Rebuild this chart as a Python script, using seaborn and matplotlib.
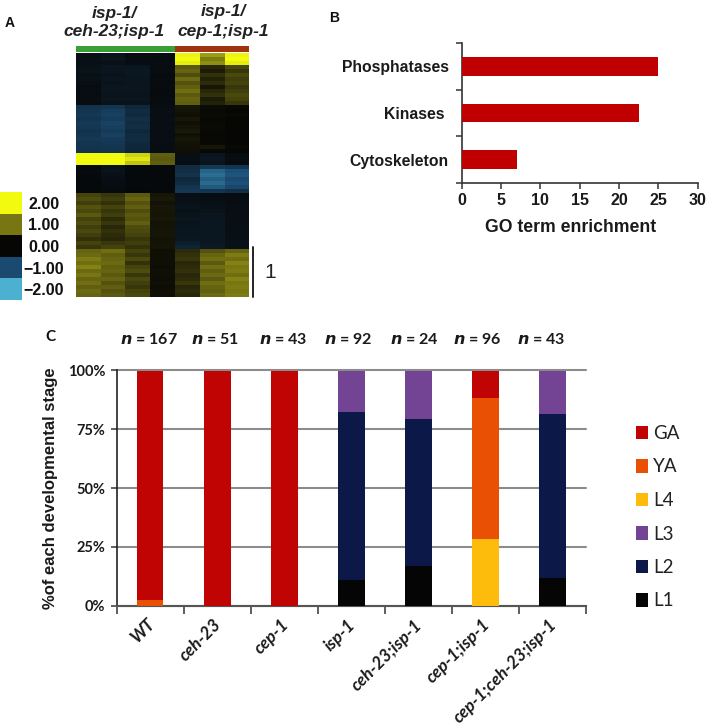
import matplotlib
matplotlib.use("Agg")
import matplotlib.pyplot as plt
from matplotlib.colors import LinearSegmentedColormap, ListedColormap
from matplotlib.transforms import ScaledTranslation
import numpy as np
import pandas as pd
import seaborn as sns

W, H = 709, 728

# Panel A: expression matrix, read block by block from the picture
heat_rows = [
    [-.14, -.20, -.10, -.10, 1.95, 1.30, 1.95],
    [-.15, -.22, -.12, -.10, 2.00, 1.05, 2.00],
    [-.16, -.18, -.11, -.12, 1.90, 1.20, 1.90],
    [-.18, -.22, -.25, -.10, .75, .30, .60],
    [-.20, -.24, -.28, -.12, .85, .20, .45],
    [-.15, -.20, -.26, -.09, .65, .40, .60],
    [-.18, -.25, -.24, -.10, .90, .25, .50],
    [-.14, -.20, -.22, -.08, .70, .35, .55],
    [-.10, -.22, -.24, -.10, .80, .15, .45],
    [-.12, -.24, -.22, -.09, .95, .30, .50],
    [-.10, -.20, -.20, -.08, .75, .40, .60],
    [-.12, -.22, -.22, -.10, .85, .20, .55],
    [-.10, -.20, -.20, -.08, .80, .25, .45],
    [-.65, -.70, -.50, -.12, .15, .05, .02],
    [-.70, -.80, -.55, -.14, .12, .04, .01],
    [-.72, -.85, -.52, -.12, .08, .05, .02],
    [-.68, -.78, -.60, -.13, .16, .03, .00],
    [-.75, -.88, -.55, -.12, .10, .04, .01],
    [-.72, -.82, -.58, -.14, .14, .05, .01],
    [-.66, -.78, -.50, -.12, .18, .03, .00],
    [-.70, -.84, -.54, -.12, .10, .02, .00],
    [-.74, -.76, -.56, -.13, .15, .04, .01],
    [-.70, -.72, -.52, -.11, .12, .03, .00],
    [-.68, -.70, -.50, -.12, .10, .15, .02],
    [-.66, -.68, -.48, -.12, .08, .03, .00],
    [2.00, 2.00, 1.70, .80, -.14, -.24, -.10],
    [2.00, 2.00, 1.85, .75, -.16, -.26, -.12],
    [2.00, 2.00, 1.60, .80, -.12, -.22, -.10],
    [-.06, -.16, -.06, -.05, -.55, -.75, -.70],
    [-.08, -.20, -.05, -.05, -.60, -1.25, -1.05],
    [-.07, -.18, -.06, -.04, -.65, -1.35, -1.10],
    [-.05, -.14, -.05, -.05, -.50, -1.20, -1.00],
    [-.06, -.12, -.04, -.04, -.55, -1.30, -1.05],
    [-.05, -.10, -.05, -.05, -.70, -1.15, -.95],
    [-.04, -.08, -.03, -.04, -.75, -.70, -.60],
    [.55, .45, .75, .15, -.14, -.10, -.10],
    [.65, .50, .85, .18, -.16, -.12, -.10],
    [.50, .40, .70, .12, -.18, -.16, -.12],
    [.70, .55, .80, .16, -.20, -.18, -.14],
    [.60, .45, .65, .15, -.18, -.20, -.12],
    [.75, .50, .75, .14, -.20, -.22, -.14],
    [.55, .35, .70, .16, -.22, -.24, -.15],
    [.65, .45, .80, .12, -.20, -.26, -.14],
    [.50, .30, .65, .14, -.22, -.26, -.15],
    [.60, .40, .60, .13, -.24, -.26, -.16],
    [.50, .35, .55, .15, -.24, -.28, -.15],
    [.40, .30, .45, .12, -.26, -.26, -.16],
    [.55, .45, .50, .14, -.35, -.28, -.18],
    [.45, .55, .40, .14, -.45, -.30, -.18],
    [.85, .95, .55, .08, .35, .70, .85],
    [.90, .80, .45, .08, .40, .85, 1.05],
    [1.05, .85, .60, .09, .45, .95, .95],
    [.95, .90, .40, .08, .30, .75, 1.10],
    [1.10, .80, .55, .07, .35, .95, 1.00],
    [.90, .85, .65, .08, .40, .80, 1.05],
    [1.00, .75, .45, .08, .30, .90, .95],
    [.85, .85, .60, .07, .35, .75, 1.10],
    [.95, .70, .50, .08, .45, .95, 1.00],
    [.80, .80, .45, .07, .30, .85, 1.05],
    [.90, .70, .55, .08, .35, .80, 1.00],
    [.85, .75, .60, .08, .30, .90, 1.05],
]
heat_groups = [0, 0, 0, 0, 1, 1, 1]
heat_group_colors = ["#3aa035", "#a03410"]
heat_levels = [2.0, 1.0, 0.0, -1.0, -2.0]
heat_level_labels = ["2.00", "1.00", "0.00", "\u22121.00", "\u22122.00"]
header_left = "isp-1/\nceh-23;isp-1"
header_right = "isp-1/\ncep-1;isp-1"

# Panel B
go_terms = ["Phosphatases", "Kinases ", "Cytoskeleton"]
go_values = [25.0, 22.6, 7.0]

# Panel C
strains = ["WT", "ceh-23", "cep-1", "isp-1", "ceh-23;isp-1", "cep-1;isp-1", "cep-1;ceh-23;isp-1"]
n_labels = ["167", "51", "43", "92", "24", "96", "43"]
stage_names = ["L1", "L2", "L3", "L4", "YA", "GA"]
stage_colors = ["#050505", "#0c1848", "#744494", "#fdbb0c", "#ea5004", "#c00404"]
L1 = [0, 0, 0, 10.7, 16.7, 0, 11.6]
L2 = [0, 0, 0, 71.8, 62.5, 0, 69.8]
L3 = [0, 0, 0, 17.5, 20.8, 0, 18.6]
L4 = [0, 0, 0, 0, 0, 28.1, 0]
YA = [2.4, 0, 0, 0, 0, 60.4, 0]
GA = [97.6, 100, 100, 0, 0, 11.5, 0]
y_ticks_c = [0, 25, 50, 75, 100]

sns.set_theme(style="white", rc={"axes.facecolor": "white"})
ARIAL = ["Liberation Sans", "DejaVu Sans"]
CALIBRI = ["Lato", "DejaVu Sans"]
plt.rcParams["font.family"] = ARIAL

fig = plt.figure(figsize=(W / 100, H / 100), dpi=100, facecolor="white")


def px_axes(x0, y0, x1, y1):
    return fig.add_axes([x0 / W, 1 - y1 / H, (x1 - x0) / W, (y1 - y0) / H])


def ftext(x, y, s, **kw):
    fig.text(x / W, 1 - y / H, s, **kw)


# ---------- Panel A ----------
expr_cmap = LinearSegmentedColormap.from_list(
    "expr",
    [(0, "#4cb0d0"), (.25, "#1a4a70"), (.5, "#050505"), (.75, "#767412"), (1, "#f2fa10")],
)
ax_h = px_axes(75.7, 52.7, 249.3, 296.7)
sns.heatmap(np.array(heat_rows), ax=ax_h, cmap=expr_cmap, vmin=-2, vmax=2,
            cbar=False, xticklabels=False, yticklabels=False)

ax_g = px_axes(75.7, 46, 249.3, 51.5)
sns.heatmap(np.array([heat_groups]), ax=ax_g, cmap=ListedColormap(heat_group_colors),
            cbar=False, xticklabels=False, yticklabels=False)

ax_k = px_axes(0, 192, 22, 300)
sns.heatmap(np.array(heat_levels).reshape(-1, 1), ax=ax_k, cmap=expr_cmap, vmin=-2, vmax=2,
            cbar=False, xticklabels=False, yticklabels=heat_level_labels)
ax_k.yaxis.tick_right()
ax_k.tick_params(axis="y", length=0, pad=15.8, labelsize=11.5, labelrotation=0)
for t in ax_k.get_yticklabels():
    t.set_fontweight("bold")
    t.set_color("#111111")
    t.set_horizontalalignment("center")

ftext(114.5, 22.5, header_left, ha="center", va="center", fontsize=12.5, fontweight="bold",
      fontstyle="italic", color="#222222", linespacing=1.3)
ftext(223.5, 21.5, header_right, ha="center", va="center", fontsize=12.5, fontweight="bold",
      fontstyle="italic", color="#222222", linespacing=1.35)
fig.add_artist(plt.Line2D([253 / W, 253 / W], [1 - 247 / H, 1 - 297 / H], color="#222222", lw=1.4))
ftext(270, 272, "1", ha="center", va="center", fontsize=15, color="#222222")
ftext(10, 23, "A", ha="center", va="center", fontsize=10, fontweight="bold", color="#111111")

# ---------- Panel B ----------
ax_b = px_axes(461.5, 43, 697.7, 183)
sns.barplot(x=go_values, y=go_terms, ax=ax_b, orient="h", color="#c00000", saturation=1, width=0.4,
            linewidth=0, zorder=3)
ax_b.set_xlim(0, 30)
ax_b.set_ylim(2.5, -0.5)
ax_b.set_xticks(range(0, 31, 5))
ax_b.set_yticks([0, 1, 2])
ax_b.set_yticklabels(go_terms)
ax_b.set_yticks([-.5, .5, 1.5, 2.5], minor=True)
ax_b.tick_params(axis="y", which="major", length=0, pad=9, labelsize=11.3)
ax_b.tick_params(axis="y", which="minor", length=4, width=1.1, color="#333333", direction="out", left=True)
ax_b.tick_params(axis="x", length=4, width=1.1, color="#333333", direction="out", pad=3, labelsize=11.5,
                 bottom=True)
for t in ax_b.get_xticklabels() + ax_b.get_yticklabels():
    t.set_fontweight("bold")
    t.set_color("#1a1a1a")
ax_b.set_xlabel("GO term enrichment", fontsize=12.7, fontweight="bold", color="#1a1a1a")
ax_b.xaxis.set_label_coords(0.461, -0.255)
ax_b.set_ylabel("")
sns.despine(ax=ax_b)
for s in ("left", "bottom"):
    ax_b.spines[s].set_color("#333333")
    ax_b.spines[s].set_linewidth(1.2)
ftext(334, 18, "B", ha="center", va="center", fontsize=10, fontweight="bold", color="#111111")

# ---------- Panel C ----------
ax_c = px_axes(116.5, 370.5, 586, 605.5)
ax_c.set_axisbelow(True)
ax_c.yaxis.grid(True, color="#8c8c8c", lw=1.5, clip_on=False)
df = pd.DataFrame({"strain": strains, "L1": L1, "L2": L2, "L3": L3, "L4": L4, "YA": YA, "GA": GA})
base = np.zeros(len(strains))
handles = []
for name, col in zip(stage_names, stage_colors):
    sns.barplot(data=df, x="strain", y=name, ax=ax_c, color=col, saturation=1, width=0.4,
                bottom=base, label=name, zorder=3, legend=False, linewidth=0)
    handles.append(plt.Rectangle((0, 0), 1, 1, color=col, label=name, lw=0))
    base = base + df[name].to_numpy()
ax_c.set_xlim(-0.5, 6.5)
ax_c.set_ylim(0, 100)
ax_c.set_yticks(y_ticks_c)
ax_c.set_yticklabels([f"{v}%" for v in y_ticks_c], fontfamily=CALIBRI, fontsize=10.5,
                     fontweight="bold", color="#1a1a1a")
ax_c.set_xticks(range(7))
ax_c.set_xticklabels(strains, rotation=45, ha="right", va="top", rotation_mode="anchor",
                     fontfamily=CALIBRI, fontsize=12.4, fontweight="bold", fontstyle="italic",
                     color="#1a1a1a")
ax_c.set_xticks(np.arange(-.5, 7), minor=True)
ax_c.tick_params(axis="x", which="major", length=0, pad=8)
ax_c.tick_params(axis="x", which="minor", length=6, width=1.1, color="#333333", direction="out", bottom=True)
ax_c.tick_params(axis="y", length=4, width=1.1, color="#333333", direction="out", pad=4, left=True)
shift = ScaledTranslation(-4 / 100, 0, fig.dpi_scale_trans)
for t in ax_c.get_xticklabels():
    t.set_transform(t.get_transform() + shift)
ax_c.set_xlabel("")
ax_c.set_ylabel("%of each developmental stage", fontsize=12, fontweight="bold", color="#1a1a1a", labelpad=7)
sns.despine(ax=ax_c)
ax_c.spines["left"].set_color("#222222")
ax_c.spines["left"].set_linewidth(1.2)
ax_c.spines["bottom"].set_color("#555555")
ax_c.spines["bottom"].set_linewidth(1.5)
leg = ax_c.legend(handles=handles[::-1], loc="upper left", bbox_to_anchor=(635.5 / W, 1 - 425 / H),
                  bbox_transform=fig.transFigure, frameon=False, labelspacing=.88,
                  handlelength=.65, handleheight=.7, handletextpad=.3, borderpad=0, borderaxespad=0,
                  prop={"family": CALIBRI, "size": 13.5})
for t in leg.get_texts():
    t.set_color("#222222")

n_x = [149, 215, 283, 348, 414, 477, 541]
for x, n in zip(n_x, n_labels):
    ftext(x, 339, f"$\\mathbfit{{n}}$ = {n}", ha="center", va="center", fontfamily=CALIBRI,
          fontsize=11.5, fontweight="bold", color="#1a1a1a", math_fontfamily="dejavusans")
ftext(50, 337, "C", ha="center", va="center", fontfamily=CALIBRI, fontsize=11, fontweight="bold",
      color="#111111")

fig.savefig("out.png", dpi=100, facecolor="white")
